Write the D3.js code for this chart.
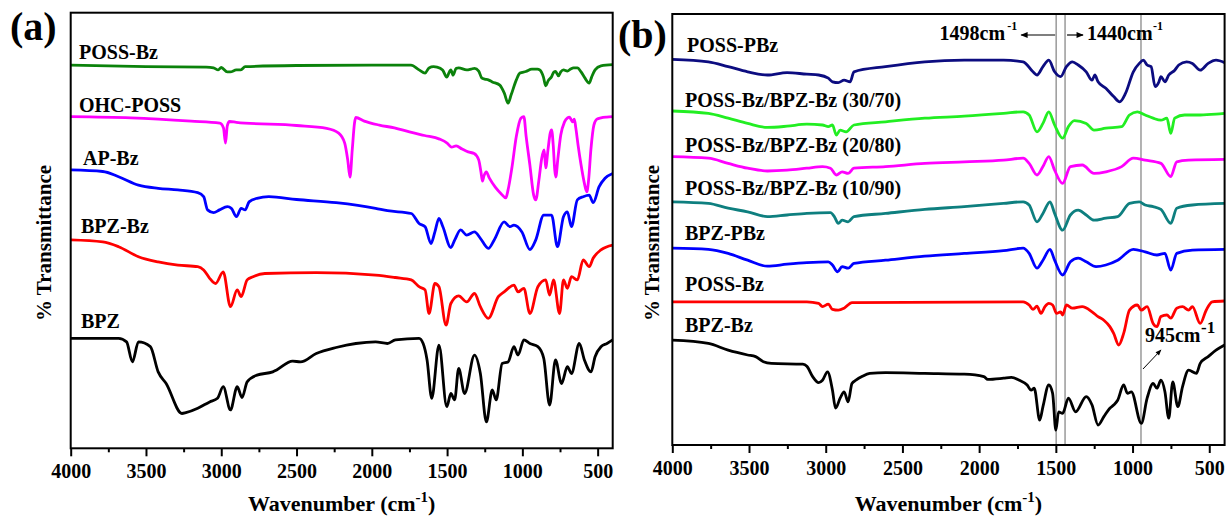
<!DOCTYPE html>
<html>
<head>
<meta charset="utf-8">
<script src="https://cdn.jsdelivr.net/npm/d3@7"></script>
<style>
  body { margin: 0; background: #fff; }
  svg { display: block; }
  text { font-family: "Liberation Serif", "Times New Roman", serif; font-weight: bold; fill: #000; }
</style>
</head>
<body>
<svg id="chart" width="1227" height="518"></svg>
<script>
// ---- Axis ticks (wavenumber, cm-1) ----
const majorTicks = [4000, 3500, 3000, 2500, 2000, 1500, 1000, 500];
const minorTicks = [3750, 3250, 2750, 2250, 1750, 1250, 750];

// ---- Panel (a) spectra: [wavenumber, transmittance (a.u., offset)] ----
const possBzA = [[4000,95.8],[3500,95.4],[3100,95.3],[3051,95.1],[3020,94.6],[3000,95.2],[2960,94.1],[2940,94.1],[2900,94.6],[2870,94.6],[2841,95.4],[2500,95.7],[2000,95.8],[1740,95.8],[1686,94.6],[1646,93.8],[1620,95.1],[1590,95.4],[1567,95.3],[1530,94.6],[1502,92.8],[1485,94.1],[1475,94.6],[1460,93.3],[1440,95.0],[1423,95.1],[1370,94.6],[1340,94.8],[1318,95.0],[1290,94.3],[1270,92.6],[1250,92.3],[1226,92.1],[1200,91.6],[1150,90.8],[1120,88.8],[1095,86.3],[1075,88.3],[1040,92.1],[1016,93.8],[977,94.2],[937,94.8],[900,94.8],[885,94.6],[860,92.8],[845,90.6],[830,91.8],[806,92.9],[790,94.1],[780,94.2],[760,93.1],[745,94.1],[727,94.6],[701,94.3],[680,94.8],[660,95.1],[635,95.1],[610,94.1],[585,92.6],[556,91.3],[540,92.8],[517,94.6],[478,95.6],[400,95.9]];
const ohcPoss = [[4000,82.9],[3600,82.6],[3200,81.8],[3010,81.3],[2985,80.1],[2972,76.3],[2960,80.6],[2945,81.7],[2900,81.5],[2500,80.7],[2300,80.0],[2220,78.8],[2180,76.3],[2160,72.1],[2145,67.8],[2130,74.6],[2115,81.3],[2107,82.7],[2050,81.8],[1950,80.8],[1850,80.1],[1750,79.1],[1650,78.2],[1550,77.3],[1500,76.3],[1470,75.3],[1440,75.6],[1400,74.8],[1360,74.1],[1320,73.7],[1290,72.1],[1275,69.1],[1265,66.8],[1255,68.1],[1240,69.1],[1220,67.6],[1180,65.3],[1140,63.6],[1110,62.6],[1095,64.6],[1070,70.0],[1040,78.0],[1010,82.5],[990,82.9],[975,78.0],[950,70.8],[925,63.3],[911,62.1],[890,67.1],[871,72.6],[855,74.6],[845,70.1],[830,74.6],[815,78.8],[806,79.6],[795,75.8],[785,69.6],[778,67.8],[765,72.1],[745,78.3],[720,81.6],[700,82.6],[688,82.8],[675,82.1],[665,81.6],[655,82.3],[645,80.1],[630,75.8],[610,70.8],[590,66.6],[572,64.1],[560,67.1],[545,74.6],[525,80.8],[505,82.3],[478,82.6],[440,82.8],[400,82.9]];
const apBz = [[4000,69.6],[3787,69.2],[3682,67.9],[3550,65.8],[3419,65.0],[3288,64.6],[3156,63.9],[3117,62.9],[3091,59.6],[3051,58.9],[3012,59.6],[2959,60.4],[2933,60.0],[2899,57.9],[2868,60.0],[2841,59.6],[2815,61.6],[2763,62.5],[2684,62.9],[2500,62.2],[2237,61.4],[1975,60.0],[1896,59.4],[1738,58.7],[1686,56.2],[1646,55.4],[1607,51.2],[1581,54.1],[1554,57.5],[1528,55.4],[1475,50.2],[1449,52.1],[1410,54.6],[1370,53.3],[1318,54.1],[1279,52.5],[1226,50.0],[1187,52.1],[1121,56.6],[1082,55.4],[1056,55.8],[1003,54.1],[950,49.7],[911,52.1],[858,58.3],[806,58.3],[767,50.4],[727,57.9],[701,59.1],[674,55.4],[635,62.1],[596,62.9],[556,63.3],[530,61.4],[490,65.4],[451,67.5],[400,68.7]];
const bpzBzA = [[4000,52.1],[3787,51.6],[3682,50.4],[3550,47.9],[3419,46.6],[3288,45.8],[3156,45.4],[3117,44.6],[3077,42.5],[3038,41.2],[2987,44.1],[2939,35.4],[2894,39.6],[2868,37.9],[2828,42.1],[2789,42.9],[2710,43.7],[2369,43.9],[1975,43.3],[1843,42.7],[1738,42.1],[1686,40.4],[1646,39.6],[1620,33.7],[1581,41.2],[1554,40.4],[1507,30.8],[1475,36.2],[1423,38.1],[1370,36.6],[1318,38.7],[1279,35.4],[1226,32.5],[1160,37.9],[1121,39.1],[1056,40.8],[1029,39.1],[990,40.0],[950,33.7],[897,40.4],[845,42.1],[819,38.3],[793,42.1],[753,33.7],[727,42.1],[701,40.0],[674,42.9],[635,42.1],[596,47.1],[556,45.4],[530,47.5],[478,49.6],[400,50.8]];
const bpz = [[4000,27.5],[3682,27.5],[3629,26.6],[3590,21.6],[3550,26.6],[3471,25.4],[3419,19.1],[3366,16.2],[3261,8.7],[3235,8.9],[3156,10.0],[3077,11.6],[3025,12.5],[2987,15.4],[2939,9.6],[2894,15.4],[2862,12.7],[2828,16.6],[2763,18.3],[2658,19.1],[2632,19.6],[2526,21.8],[2474,21.6],[2369,23.7],[2237,25.2],[2106,26.2],[1975,26.6],[1896,26.2],[1843,27.1],[1686,27.5],[1659,26.2],[1633,22.1],[1602,12.5],[1554,25.8],[1502,10.4],[1475,13.7],[1450,12.1],[1423,20.0],[1384,13.7],[1318,23.3],[1279,18.7],[1239,6.6],[1200,14.6],[1174,12.1],[1134,21.2],[1095,21.6],[1056,25.4],[1029,23.3],[990,27.1],[950,26.2],[897,25.4],[858,22.5],[819,10.8],[780,22.1],[740,16.2],[701,20.4],[674,18.7],[622,26.2],[588,22.1],[544,19.1],[517,22.9],[478,25.4],[438,26.2],[400,27.1]];

// ---- Panel (b) spectra ----
const possPBz = [[4000,96.4],[3765,95.8],[3636,94.6],[3509,93.3],[3380,92.5],[3252,93.1],[3123,92.7],[3046,92.5],[2983,91.7],[2956,90.8],[2918,90.6],[2880,91.2],[2841,90.8],[2816,93.3],[2610,94.6],[2354,95.8],[2097,96.2],[1841,96.2],[1713,95.8],[1649,93.3],[1623,92.5],[1584,94.6],[1546,96.2],[1508,93.3],[1469,92.1],[1431,94.6],[1392,95.8],[1354,95.0],[1302,93.3],[1264,91.2],[1246,92.5],[1225,90.8],[1174,89.2],[1123,87.1],[1084,85.8],[1046,87.9],[995,93.3],[956,95.4],[930,96.2],[905,95.0],[879,94.6],[853,89.6],[828,90.8],[815,92.1],[789,90.8],[764,92.5],[725,93.7],[699,95.0],[648,95.8],[610,95.4],[559,93.7],[507,95.4],[456,96.2],[400,95.6]];
const blend3070 = [[4000,83.5],[3765,82.9],[3636,81.7],[3509,80.4],[3380,79.4],[3252,79.7],[3123,80.2],[3021,80.0],[2983,79.6],[2956,80.0],[2931,77.5],[2906,78.7],[2867,78.3],[2816,80.0],[2610,80.8],[2354,81.7],[2097,82.2],[1841,82.9],[1713,83.3],[1674,82.5],[1623,78.3],[1584,80.4],[1546,83.3],[1508,80.0],[1456,76.7],[1418,79.6],[1379,81.1],[1302,80.4],[1251,78.7],[1174,79.2],[1071,79.6],[1020,82.5],[969,83.3],[918,82.5],[866,81.7],[815,81.2],[776,81.7],[751,77.9],[725,81.7],[661,82.5],[559,82.5],[456,82.7],[400,82.9]];
const blend2080 = [[4000,72.1],[3765,71.7],[3636,70.4],[3509,69.2],[3380,68.5],[3252,68.7],[3123,69.2],[3021,69.6],[2969,69.2],[2931,67.5],[2893,68.3],[2854,67.9],[2816,69.2],[2610,69.6],[2354,70.4],[2097,70.8],[1841,71.2],[1713,71.7],[1674,70.4],[1623,67.5],[1584,69.6],[1546,72.1],[1508,68.7],[1456,65.4],[1405,69.6],[1328,70.0],[1251,67.9],[1174,68.3],[1071,69.6],[995,71.7],[918,71.2],[815,70.4],[751,67.1],[712,70.8],[635,71.2],[400,71.4]];
const blend1090 = [[4000,60.8],[3765,60.4],[3636,59.2],[3509,58.3],[3380,57.1],[3252,57.5],[3123,57.9],[2969,58.1],[2944,57.1],[2918,55.4],[2893,56.2],[2854,55.8],[2816,57.1],[2610,57.9],[2354,58.9],[2097,59.6],[1841,60.4],[1713,60.8],[1674,60.0],[1623,55.8],[1584,57.9],[1538,60.8],[1508,57.9],[1456,53.7],[1405,57.5],[1354,58.7],[1302,57.5],[1251,56.2],[1174,56.7],[1097,57.1],[1020,60.4],[956,60.8],[918,60.0],[866,59.6],[815,58.9],[751,55.4],[712,59.2],[610,60.0],[400,60.4]];
const bpzPBz = [[4000,49.2],[3765,48.9],[3636,47.9],[3509,46.2],[3380,44.7],[3252,45.2],[3123,45.6],[2983,45.8],[2956,45.0],[2923,43.3],[2893,44.6],[2854,44.2],[2816,45.4],[2610,46.2],[2354,47.2],[2097,47.9],[1841,48.6],[1713,49.2],[1674,47.9],[1623,44.2],[1584,46.2],[1538,48.9],[1508,46.2],[1456,42.5],[1405,45.8],[1354,46.7],[1302,45.8],[1238,44.6],[1174,45.0],[1097,46.2],[995,48.9],[918,48.3],[841,47.5],[789,47.9],[751,43.7],[712,47.9],[610,48.7],[400,48.9]];
const possBzB = [[4000,35.8],[3123,35.8],[3046,35.4],[3021,34.6],[2983,35.2],[2956,33.9],[2918,33.7],[2880,34.2],[2829,35.6],[1713,35.8],[1674,35.0],[1649,33.9],[1623,34.7],[1597,32.9],[1571,34.6],[1546,35.4],[1521,35.0],[1495,32.9],[1469,33.3],[1456,32.5],[1431,35.0],[1392,34.2],[1328,34.6],[1264,33.3],[1225,32.1],[1187,31.2],[1148,29.6],[1123,27.9],[1090,25.0],[1058,27.9],[1020,33.7],[969,35.0],[943,33.7],[905,34.6],[866,30.4],[841,29.6],[815,32.1],[776,32.5],[751,31.7],[712,34.2],[674,34.6],[635,33.7],[610,34.6],[559,30.4],[520,33.7],[481,35.8],[400,36.0]];
const bpzBzB = [[4000,26.2],[3765,25.4],[3636,23.7],[3509,22.5],[3457,22.1],[3406,20.8],[3354,20.4],[3149,20.2],[3123,19.7],[3085,17.1],[3046,15.6],[3021,16.2],[2988,18.3],[2956,13.7],[2936,9.2],[2906,11.7],[2880,13.3],[2854,10.8],[2829,15.4],[2803,16.2],[2764,17.1],[2713,17.9],[2610,18.1],[2354,17.9],[2097,17.7],[1969,17.1],[1944,16.4],[1841,16.7],[1790,16.9],[1738,16.2],[1687,15.0],[1661,13.7],[1641,14.2],[1605,6.2],[1584,9.6],[1546,15.0],[1521,12.9],[1500,3.7],[1482,8.3],[1456,7.9],[1418,11.7],[1371,8.3],[1302,12.1],[1264,10.0],[1225,5.0],[1187,7.1],[1148,9.2],[1123,10.0],[1097,11.2],[1058,15.0],[1033,12.9],[1008,13.3],[943,5.4],[905,11.7],[866,15.4],[841,14.2],[815,16.2],[789,13.3],[764,6.7],[738,15.8],[705,9.6],[674,14.6],[635,18.7],[584,17.9],[559,20.4],[507,22.1],[456,23.7],[400,25.0]];

// ---- Series names, colours ----
const namesA = ["POSS-Bz", "OHC-POSS", "AP-Bz", "BPZ-Bz", "BPZ"];
const colorsA = ["#0b820b", "#ff00ff", "#0000ff", "#ff0000", "#000000"];
const namesB = ["POSS-PBz", "POSS-Bz/BPZ-Bz (30/70)", "POSS-Bz/BPZ-Bz (20/80)", "POSS-Bz/BPZ-Bz (10/90)", "BPZ-PBz", "POSS-Bz", "BPZ-Bz"];
const colorsB = ["#0c0c80", "#22ee22", "#ff00ff", "#0e7f7f", "#0000ff", "#ff0000", "#000000"];

// Marked bands in panel (b)
const markedBands = [1498, 1440, 945];

// ---- Layout ----
const panels = [
  { id: "(a)", left: 70.7, right: 612.7, top: 12.7, bottom: 448.3, yMax: 108.9,
    series: [possBzA, ohcPoss, apBz, bpzBzA, bpz], names: namesA, colors: colorsA,
    labelX: [79, 79, 83, 81, 81], labelY: [59.3, 111.7, 165, 233.3, 328.3],
    tag: { x: 10, y: 40 }, yTitleX: 51 },
  { id: "(b)", left: 672.3, right: 1224.6, top: 14, bottom: 445, yMax: 107.75,
    series: [possPBz, blend3070, blend2080, blend1090, bpzPBz, possBzB, bpzBzB], names: namesB, colors: colorsB,
    labelX: [687, 685, 685, 685, 685, 685, 685], labelY: [51.7, 106.7, 151.7, 195, 240, 291, 331.7],
    tag: { x: 618, y: 48 }, yTitleX: 659 }
];

const svg = d3.select("#chart");

panels.forEach((p, pi) => {
  const x = d3.scaleLinear().domain([4000, 400]).range([p.left, p.right]);
  const y = d3.scaleLinear().domain([0, p.yMax]).range([p.bottom, p.top]);
  const g = svg.append("g");

  // marked band lines (panel b)
  if (pi === 1) {
    g.selectAll("line.band").data(markedBands).join("line")
      .attr("class", "band")
      .attr("x1", d => x(d)).attr("x2", d => x(d))
      .attr("y1", p.top).attr("y2", p.bottom)
      .attr("stroke", "#8a8a8a").attr("stroke-width", 1.3);
  }

  // spectra
  const line = d3.line().x(d => x(d[0])).y(d => y(d[1])).curve(d3.curveMonotoneX);
  g.selectAll("path.spec").data(p.series).join("path")
    .attr("class", "spec")
    .attr("d", line)
    .attr("fill", "none")
    .attr("stroke", (d, i) => p.colors[i])
    .attr("stroke-width", 2.8)
    .attr("stroke-linejoin", "round");

  // series labels
  g.selectAll("text.lbl").data(p.names).join("text")
    .attr("class", "lbl")
    .attr("x", (d, i) => p.labelX[i])
    .attr("y", (d, i) => p.labelY[i])
    .attr("font-size", 20)
    .text(d => d);

  // frame
  g.append("rect")
    .attr("x", p.left).attr("y", p.top)
    .attr("width", p.right - p.left).attr("height", p.bottom - p.top)
    .attr("fill", "none").attr("stroke", "#000").attr("stroke-width", 2);

  // x axis: major ticks with labels
  const axMajor = g.append("g").attr("transform", `translate(0,${p.bottom})`)
    .call(d3.axisBottom(x).tickValues(majorTicks).tickSize(8).tickPadding(8).tickFormat(d3.format("d")));
  axMajor.select(".domain").remove();
  axMajor.selectAll("line").attr("stroke", "#000").attr("stroke-width", 2);
  axMajor.selectAll("text")
    .attr("font-family", "'Liberation Serif', 'Times New Roman', serif")
    .attr("font-weight", "bold").attr("font-size", 20).attr("fill", "#000");

  // minor ticks
  const axMinor = g.append("g").attr("transform", `translate(0,${p.bottom})`)
    .call(d3.axisBottom(x).tickValues(minorTicks).tickSize(4).tickFormat(""));
  axMinor.select(".domain").remove();
  axMinor.selectAll("line").attr("stroke", "#000").attr("stroke-width", 2);

  // x axis title
  const xt = g.append("text")
    .attr("x", (p.left + p.right) / 2).attr("y", 511)
    .attr("text-anchor", "middle").attr("font-size", 22);
  xt.append("tspan").text("Wavenumber (cm");
  xt.append("tspan").attr("font-size", 15).attr("dy", -9).text("-1");
  xt.append("tspan").attr("dy", 9).text(")");

  // y axis title
  g.append("text")
    .attr("transform", `translate(${p.yTitleX},${243}) rotate(-90)`)
    .attr("text-anchor", "middle").attr("font-size", 21)
    .text("% Transmittance");

  // panel tag
  g.append("text").attr("x", p.tag.x).attr("y", p.tag.y)
    .attr("font-size", 40).text(p.id);

  // annotations in panel (b)
  if (pi === 1) {
    const defs = svg.append("defs");
    defs.append("marker").attr("id", "head")
      .attr("viewBox", "0 0 10 10").attr("refX", 9).attr("refY", 5)
      .attr("markerWidth", 7).attr("markerHeight", 6).attr("orient", "auto")
      .append("path").attr("d", "M0,1 L10,5 L0,9 Z").attr("fill", "#000");

    // 1498 cm-1 label with arrow to the left
    g.append("text").attr("x", x(1498) - 51).attr("y", 40)
      .attr("text-anchor", "end").attr("font-size", 20).text("1498cm");
    g.append("text").attr("x", x(1498) - 49).attr("y", 30)
      .attr("font-size", 12).text("-1");
    g.append("line")
      .attr("x1", x(1498) - 1).attr("x2", x(1498) - 35)
      .attr("y1", 35).attr("y2", 35)
      .attr("stroke", "#000").attr("stroke-width", 1.2)
      .attr("marker-end", "url(#head)");

    // 1440 cm-1 label with arrow to the right
    g.append("line")
      .attr("x1", x(1440) + 2).attr("x2", x(1440) + 18)
      .attr("y1", 35).attr("y2", 35)
      .attr("stroke", "#000").attr("stroke-width", 1.2)
      .attr("marker-end", "url(#head)");
    g.append("text").attr("x", x(1440) + 22).attr("y", 40)
      .attr("font-size", 20).text("1440cm");
    g.append("text").attr("x", x(1440) + 88).attr("y", 30)
      .attr("font-size", 12).text("-1");

    // 945 cm-1 label with diagonal arrow
    g.append("line")
      .attr("x1", x(945) + 2).attr("y1", 369)
      .attr("x2", x(945) + 20).attr("y2", 350)
      .attr("stroke", "#000").attr("stroke-width", 1)
      .attr("marker-end", "url(#head)");
    g.append("text").attr("x", x(945) + 4).attr("y", 342)
      .attr("font-size", 20).text("945cm");
    g.append("text").attr("x", x(945) + 60).attr("y", 333)
      .attr("font-size", 17).text("-1");
  }
});
</script>
</body>
</html>
